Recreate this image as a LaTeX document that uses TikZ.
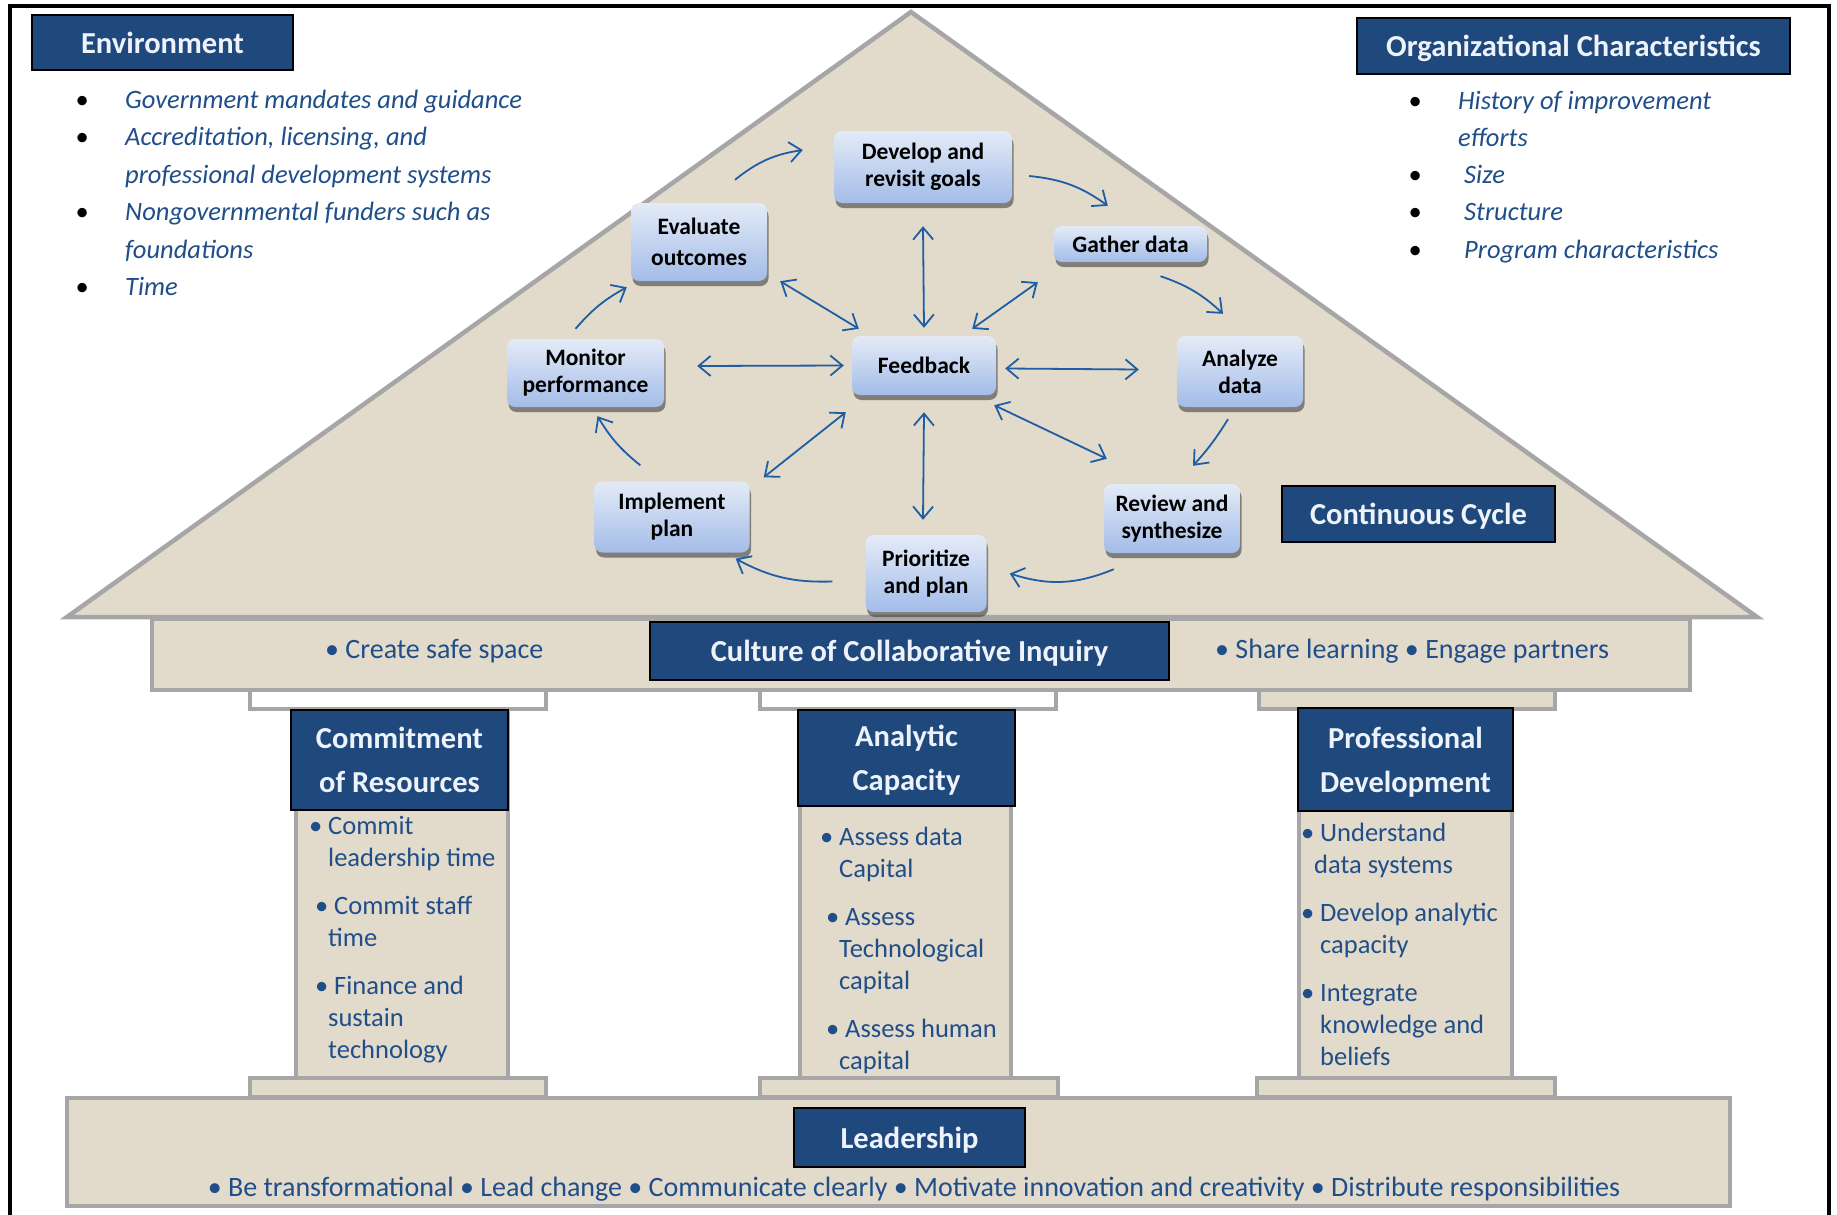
\documentclass[tikz,border=0pt]{standalone}
\usepackage{fontspec}
\setmainfont{Carlito}
\usetikzlibrary{arrows.meta,shadows,calc}
\definecolor{beige}{RGB}{226,218,203}
\definecolor{pgray}{RGB}{166,166,166}
\definecolor{hblue}{RGB}{31,73,125}
\definecolor{tblue}{RGB}{31,78,137}
\definecolor{ablue}{RGB}{30,94,164}
\definecolor{ctop}{RGB}{228,235,247}
\definecolor{cbot}{RGB}{163,188,232}
\definecolor{htext}{RGB}{238,242,250}
\newcommand{\blackbul}{\makebox[49.5pt][l]{\color{black}\upshape\textbullet}}
\newcommand{\nobul}{\hspace{49.5pt}}
\tikzset{
  hdr/.style={draw=black, line width=2pt, fill=hblue, text=htext,
    font=\fontsize{30.5}{44}\selectfont\bfseries, align=center, inner sep=0pt, text depth=0pt},
  cyc/.style={rounded corners=8pt, top color=ctop, bottom color=cbot, draw=none,
    font=\fontsize{23.5}{27}\selectfont\bfseries, align=center, inner sep=0pt,
    drop shadow={shadow xshift=1.5pt, shadow yshift=-5pt, opacity=0.55, fill=black!80}},
  stone/.style={fill=beige, draw=pgray, line width=4.5pt},
  capwhite/.style={fill=white, draw=pgray, line width=4pt},
  arr/.style={draw=ablue, line width=1.8pt, -{Straight Barb[length=12pt,width=20pt]}},
  dbl/.style={draw=ablue, line width=1.8pt, {Straight Barb[length=12pt,width=20pt]}-{Straight Barb[length=12pt,width=20pt]}},
  btxt/.style={text=tblue, inner sep=0pt, anchor=base west, font=\fontsize{26.5}{32}\selectfont},
  wtxt/.style={text=tblue, inner sep=0pt, anchor=base west, font=\fontsize{28}{32}\selectfont},
  ltxt/.style={text=tblue, inner sep=0pt, anchor=base west, font=\fontsize{26.5}{37.5}\selectfont\itshape},
}
\begin{document}
\begin{tikzpicture}[x=1pt,y=-1pt]
\useasboundingbox (0,0) rectangle (1837,1215);
\fill[white] (0,0) rectangle (1837,1215);
% frame
\draw[line width=4pt] (10,1215) -- (10,6) -- (1829,6) -- (1829,1215);

% roof
\draw[stone] (67,617) -- (911,12) -- (1757,617) -- cycle;
% frieze
\draw[stone] (152,619) rectangle (1690,690);
% capitals
\draw[capwhite] (250,690) rectangle (546,709);
\draw[capwhite] (760,690) rectangle (1056,709);
\draw[stone, line width=4pt] (1259,690) rectangle (1555,709);
% shafts
\draw[stone, line width=4pt] (296,709) rectangle (508,1078);
\draw[stone, line width=4pt] (800,709) rectangle (1011,1078);
\draw[stone, line width=4pt] (1299,709) rectangle (1512,1078);
% plinths
\draw[stone, line width=4pt] (250,1078) rectangle (546,1097);
\draw[stone, line width=4pt] (760,1078) rectangle (1058,1097);
\draw[stone, line width=4pt] (1257,1078) rectangle (1555,1097);
% leadership slab
\draw[stone] (67,1098) rectangle (1730,1206);

% header boxes
\node[hdr, minimum width=261pt, minimum height=55pt] (env) at (162.5,42.5) {Environment};
\node[hdr, minimum width=433pt, minimum height=56pt] (org) at (1573.5,46) {Organizational Characteristics};
\node[hdr, minimum width=273pt, minimum height=56pt] (cont) at (1418.5,514) {Continuous Cycle};
\node[hdr, minimum width=519pt, minimum height=58pt] (cult) at (909.5,651) {Culture of Collaborative Inquiry};
\node[hdr, minimum width=217pt, minimum height=100pt] (commit) at (399.5,760) {Commitment\\of Resources};
\node[hdr, minimum width=217pt, minimum height=96pt] (anal) at (906.5,758) {Analytic\\Capacity};
\node[hdr, minimum width=215pt, minimum height=103pt] (prof) at (1405.5,759.5) {Professional\\Development};
\node[hdr, minimum width=231pt, minimum height=59pt] (lead) at (909.5,1137.5) {Leadership};

% environment list
\node[ltxt] (envlist) at (75.5,108)
{\begin{tabular}[t]{@{}l@{}}
\blackbul Government mandates and guidance\\
\blackbul Accreditation, licensing, and\\
\nobul professional development systems\\
\blackbul Nongovernmental funders such as\\
\nobul foundations\\
\blackbul Time
\end{tabular}};

% organizational list
\node[ltxt, font=\fontsize{26.5}{37.3}\selectfont\itshape] (orglist) at (1408.5,109)
{\begin{tabular}[t]{@{}l@{}}
\blackbul History of improvement\\
\nobul efforts\\
\blackbul \hspace{6pt}Size\\
\blackbul \hspace{6pt}Structure\\
\blackbul \hspace{6pt}Program characteristics
\end{tabular}};

% frieze texts
\node[wtxt] (safe) at (325,658) {\textbullet\ Create safe space};
\node[wtxt] (share) at (1215,658) {\textbullet\ Share learning \textbullet\ Engage partners};

% column texts
\node[btxt] (c1) at (328,834)
{\begin{tabular}[t]{@{}l@{}}
\llap{\textbullet\hspace{6pt}}Commit\\
leadership time\\[16pt]
\hspace{6pt}\llap{\textbullet\hspace{6pt}}Commit staff\\
time\\[16pt]
\hspace{6pt}\llap{\textbullet\hspace{6pt}}Finance and\\
sustain\\
technology
\end{tabular}};
\node[btxt] (c2) at (839,845)
{\begin{tabular}[t]{@{}l@{}}
\llap{\textbullet\hspace{6pt}}Assess data\\
Capital\\[16pt]
\hspace{6pt}\llap{\textbullet\hspace{6pt}}Assess\\
Technological\\
capital\\[16pt]
\hspace{6pt}\llap{\textbullet\hspace{6pt}}Assess human\\
capital
\end{tabular}};
\node[btxt] (c3) at (1320,841)
{\begin{tabular}[t]{@{}l@{}}
\llap{\textbullet\hspace{6pt}}Understand\\
\hspace{-6pt}data systems\\[16pt]
\llap{\textbullet\hspace{6pt}}Develop analytic\\
capacity\\[16pt]
\llap{\textbullet\hspace{6pt}}Integrate\\
knowledge and\\
beliefs
\end{tabular}};

% leadership text
\node[wtxt, anchor=base] (leadtxt) at (914,1196)
{\textbullet\ Be transformational \textbullet\ Lead change \textbullet\ Communicate clearly \textbullet\ Motivate innovation and creativity \textbullet\ Distribute responsibilities};

% cycle nodes
\node[cyc, minimum width=178pt, minimum height=72pt] (dv) at (923,167) {Develop and\\revisit goals};
\node[cyc, minimum width=153pt, minimum height=36pt] (ga) at (1130.5,244) {Gather data};
\node[cyc, minimum width=126pt, minimum height=71pt] (an) at (1240,371.5) {Analyze\\data};
\node[cyc, minimum width=136pt, minimum height=69pt] (rv) at (1172,518.5) {Review and\\synthesize};
\node[cyc, minimum width=121pt, minimum height=77pt] (pr) at (926,573.5) {Prioritize\\and plan};
\node[cyc, minimum width=155pt, minimum height=71pt] (im) at (672,517) {Implement\\plan};
\node[cyc, minimum width=157pt, minimum height=68pt] (mo) at (585.5,373) {Monitor\\performance};
\node[cyc, minimum width=136pt, minimum height=78pt, font=\fontsize{23.5}{31}\selectfont\bfseries] (ev) at (699,242) {Evaluate\\outcomes};
\node[cyc, minimum width=144pt, minimum height=59pt] (fb) at (924,365.5) {Feedback};

% feedback spokes
\draw[dbl] ($(fb.north)+(0,-8)$) -- ($(dv.south)+(0,23)$);
\draw[dbl] ($(fb.south)+(0,17)$) -- ($(pr.north)+(-3,-15)$);
\draw[dbl] ($(fb.west)+(-8,0)$) -- ($(mo.east)+(33,-7)$);
\draw[dbl] ($(fb.east)+(9,3)$) -- ($(an.west)+(-38,-2)$);
\draw[dbl] ($(fb.north west)+(7,-7)$) -- ($(ev.south east)+(13,0)$);
\draw[dbl] ($(fb.north east)+(-24,-7)$) -- ($(ga.south west)+(-16,20)$);
\draw[dbl] ($(fb.south east)+(-2,10)$) -- ($(rv.north west)+(3,-25)$);
\draw[dbl] ($(fb.south west)+(-6,17)$) -- ($(im.north east)+(14,-4)$);

% cycle arrows
\draw[arr] ($(ev.north)+(36,-23)$) to[bend left=15] ($(dv.west)+(-31,-17)$);
\draw[arr] ($(dv.east)+(17,9)$) to[bend left=15] ($(ga.north west)+(54,-20)$);
\draw[arr] ($(ga.south)+(30,14)$) to[bend left=12] ($(an.north)+(-17,-22)$);
\draw[arr] ($(an.south)+(-12,12)$) to[bend left=5] ($(rv.north)+(21,-18)$);
\draw[arr] ($(rv.south west)+(10,16)$) to[bend left=20] ($(pr.east)+(23,0)$);
\draw[arr] ($(pr.west)+(-33,8)$) to[bend left=15] ($(im.south east)+(-14,6)$);
\draw[arr] ($(im.north west)+(46,-16)$) to[bend left=10] ($(mo.south)+(12,9)$);
\draw[arr] ($(mo.north)+(-10,-10)$) to[bend left=10] ($(ev.south west)+(-4,6)$);
\end{tikzpicture}
\end{document}
